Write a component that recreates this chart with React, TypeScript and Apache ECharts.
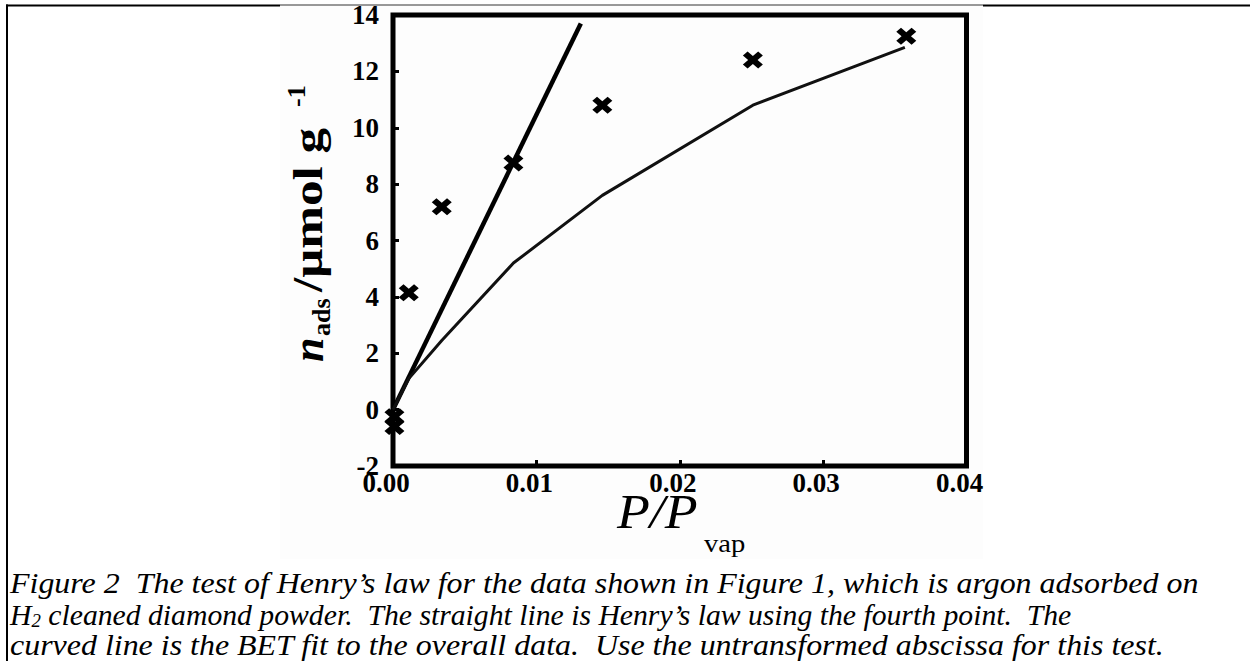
import React, { useEffect, useRef } from "react";
import * as echarts from "echarts";

// ---- data ----
const xTickValues = [0, 0.01, 0.02, 0.03, 0.04];
const yTickValues = [-2, 0, 2, 4, 6, 8, 10, 12, 14];
const pointX = [0.0001, 0.0001, 0.0011, 0.0034, 0.0084, 0.0146, 0.0251, 0.0358];
const pointY = [-0.25, -0.6, 4.15, 7.2, 8.75, 10.8, 12.4, 13.25];
const henryX = [0, 0.0131];
const henryY = [0, 13.7];
const betX = [0, 0.0011, 0.0034, 0.0084, 0.0146, 0.0251, 0.0357];
const betY = [0, 1.1, 2.45, 5.2, 7.6, 10.8, 12.85];
const captionLine1 = "Figure 2  The test of Henry\u2019s law for the data shown in Figure 1, which is argon adsorbed on";
const captionLine2a = "H";
const captionLine2sub = "2";
const captionLine2b = " cleaned diamond powder.  The straight line is Henry\u2019s law using the fourth point.  The";
const captionLine3 = "curved line is the BET fit to the overall data.  Use the untransformed abscissa for this test.";

const SERIF = "'Liberation Serif', 'Times New Roman', serif";

export default function App() {
  const ref = useRef<HTMLDivElement>(null);
  useEffect(() => {
    const chart = echarts.init(ref.current!, null, { renderer: "svg" });
    const markerPath =
      "path://M0,3.3L3.3,0L7,3.7L10.7,0L14,3.3L10.3,7L14,10.7L10.7,14L7,10.3L3.3,14L0,10.7L3.7,7Z";
    const option: any = {
      animation: false,
      backgroundColor: "#ffffff",
      grid: {
        left: 393,
        right: 283.5,
        top: 15,
        bottom: 195,
        show: true,
        borderColor: "#000",
        borderWidth: 5,
        backgroundColor: "transparent",
        z: 3,
      },
      xAxis: {
        type: "value",
        min: xTickValues[0],
        max: xTickValues[xTickValues.length - 1],
        interval: 0.01,
        axisLine: { show: false, onZero: false },
        axisTick: { show: true, inside: true, length: 6, lineStyle: { color: "#000", width: 3 } },
        splitLine: { show: false },
        axisLabel: {
          color: "#000",
          fontFamily: SERIF,
          fontWeight: "bold",
          fontSize: 27,
          margin: 3,
          padding: [0, 14, 0, 0],
          formatter: (v: number) => v.toFixed(2),
        },
      },
      yAxis: {
        type: "value",
        min: yTickValues[0],
        max: yTickValues[yTickValues.length - 1],
        interval: 2,
        axisLine: { show: false, onZero: false },
        axisTick: { show: true, inside: true, length: 6, lineStyle: { color: "#000", width: 3 } },
        splitLine: { show: false },
        axisLabel: {
          color: "#000",
          fontFamily: SERIF,
          fontWeight: "bold",
          fontSize: 27,
          margin: 14,
          formatter: (v: number) => String(v),
        },
      },
      series: [
        {
          type: "line",
          data: henryX.map((x, i) => [x, henryY[i]]),
          showSymbol: false,
          symbol: "none",
          lineStyle: { color: "#000", width: 4.5 },
          z: 4,
        },
        {
          type: "line",
          data: betX.map((x, i) => [x, betY[i]]),
          showSymbol: false,
          symbol: "none",
          lineStyle: { color: "#111", width: 3 },
          z: 4,
        },
        {
          type: "scatter",
          data: pointX.map((x, i) => [x, pointY[i]]),
          symbol: markerPath,
          symbolSize: [20, 17],
          itemStyle: { color: "#000", opacity: 1 },
          z: 5,
        },
      ],
      graphic: [
        { type: "rect", z: -10, shape: { x: 280, y: 6, width: 703, height: 553 }, style: { fill: "#fdfdfd" } },
        { type: "line", shape: { x1: 7, y1: 4.5, x2: 7, y2: 661 }, style: { stroke: "#000", lineWidth: 2 } },
        { type: "line", shape: { x1: 6, y1: 5.5, x2: 280, y2: 5.5 }, style: { stroke: "#000", lineWidth: 2 } },
        { type: "line", shape: { x1: 280, y1: 5, x2: 983, y2: 5 }, style: { stroke: "#333", lineWidth: 1 } },
        { type: "line", shape: { x1: 983, y1: 5.5, x2: 1250, y2: 5.5 }, style: { stroke: "#000", lineWidth: 2 } },
        {
          type: "group",
          x: 323,
          y: 362,
          rotation: Math.PI / 2,
          children: [
            { type: "text", x: 0, y: -15, style: { text: "n", font: `italic bold 44px ${SERIF}`, fill: "#000", verticalAlign: "middle" } },
            { type: "text", x: 26, y: -2, style: { text: "ads", font: `bold 26px ${SERIF}`, fill: "#000", verticalAlign: "middle" } },
            { type: "text", x: 70, y: -15, scaleX: 1.22, style: { text: "/\u03bcmol g", font: `bold 42px ${SERIF}`, fill: "#000", verticalAlign: "middle" } },
            { type: "text", x: 255, y: -27, style: { text: "-1", font: `bold 26px ${SERIF}`, fill: "#000", verticalAlign: "middle" } },
          ],
        },
        { type: "text", x: 617, y: 512, scaleX: 1.12, style: { text: "P/P", font: `italic 48px ${SERIF}`, fill: "#000", verticalAlign: "middle" } },
        { type: "text", x: 704, y: 543, scaleX: 1.1, style: { text: "vap", font: `26px ${SERIF}`, fill: "#000", verticalAlign: "middle" } },
        { type: "text", x: 10, y: 583, scaleX: 1.065, style: { text: captionLine1, font: `italic 30px ${SERIF}`, fill: "#000", verticalAlign: "middle" } },
        {
          type: "text",
          x: 10,
          y: 614,
          scaleX: 0.99,
          style: {
            text: `{a|${captionLine2a}}{s|${captionLine2sub}}{a|${captionLine2b}}`,
            fill: "#000",
            verticalAlign: "middle",
            rich: {
              a: { font: `italic 30px ${SERIF}`, fill: "#000", lineHeight: 32 },
              s: { font: `italic 19px ${SERIF}`, fill: "#000", verticalAlign: "bottom", lineHeight: 19 },
            },
          },
        },
        { type: "text", x: 10, y: 645, scaleX: 1.065, style: { text: captionLine3, font: `italic 30px ${SERIF}`, fill: "#000", verticalAlign: "middle" } },
      ],
    };
    chart.setOption(option);
    return () => chart.dispose();
  }, []);
  return (
    <div
      ref={ref}
      style={{ position: "fixed", left: 0, top: 0, width: 1250, height: 661, background: "#fff" }}
    />
  );
}
